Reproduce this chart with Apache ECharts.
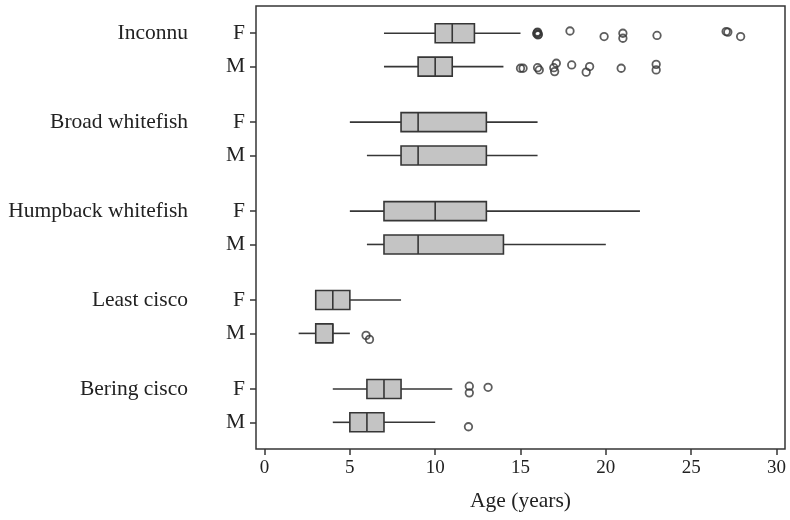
<!DOCTYPE html>
<html>
<head>
<meta charset="utf-8">
<script src="https://cdn.jsdelivr.net/npm/echarts@6/dist/echarts.min.js"></script>
<style>
  html, body { margin: 0; padding: 0; background: #fff; }
  #chart { width: 790px; height: 520px; }
</style>
</head>
<body>
<div id="chart"></div>
<script>
// groups, top to bottom
const species = ['Inconnu', 'Broad whitefish', 'Humpback whitefish', 'Least cisco', 'Bering cisco'];
const sexes = ['F', 'M'];
// y position of each row (F/M pairs, gap between species)
const rowPos = [0, 3, 8, 11, 16, 19, 24, 27, 32, 35];
// box per row: [min, Q1, median, Q3, max]
const boxStats = [
  [7, 10, 11, 12.3, 15],
  [7, 9, 10, 11, 14],
  [5, 8, 9, 13, 16],
  [6, 8, 9, 13, 16],
  [5, 7, 10, 13, 22],
  [6, 7, 9, 14, 20],
  [3, 3, 4, 5, 8],
  [2, 3, 4, 4, 5],
  [4, 6, 7, 8, 11],
  [4, 5, 6, 7, 10]
];
// outliers: [row, age, vertical jitter]
const outliers = [
  [0, 16, -0.1], [0, 16.05, 0.1], [0, 15.95, 0.05], [0, 16.02, 0.15], [0, 15.98, -0.05],
  [0, 17.9, -0.2], [0, 19.9, 0.3], [0, 21, 0], [0, 21, 0.45], [0, 23, 0.2],
  [0, 27.05, -0.15], [0, 27.15, -0.1], [0, 27.9, 0.3],
  [1, 15, 0.15], [1, 15.15, 0.15], [1, 16, 0.1], [1, 16.1, 0.3],
  [1, 17.1, -0.3], [1, 16.95, 0.1], [1, 17, 0.45], [1, 18, -0.15],
  [1, 19.05, 0], [1, 18.85, 0.5], [1, 20.9, 0.15], [1, 22.95, -0.2], [1, 22.95, 0.3],
  [7, 5.95, 0.18], [7, 6.15, 0.54],
  [8, 12, -0.25], [8, 12, 0.35], [8, 13.1, -0.15],
  [9, 11.95, 0.4]
];
const xTicks = [0, 5, 10, 15, 20, 25, 30];

const ink = '#363636';
const font = 'Liberation Serif';

const boxData = boxStats.map((b, i) => [rowPos[i]].concat(b));
const pointData = outliers.map(o => [o[1], rowPos[o[0]] + o[2]]);
const fRows = rowPos.filter((_, i) => i % 2 === 0);

const chart = echarts.init(document.getElementById('chart'));
chart.setOption({
  animation: false,
  grid: { left: 256, right: 5, top: 6, bottom: 71, show: true, borderColor: ink, borderWidth: 1.5 },
  xAxis: {
    type: 'value', min: -0.5, max: 30.5,
    axisLine: { show: false, onZero: false },
    splitLine: { show: false },
    axisTick: { customValues: xTicks, length: 6, lineStyle: { color: ink, width: 1.5 } },
    axisLabel: { customValues: xTicks, fontSize: 19, fontFamily: font, color: '#222', margin: 10 },
    name: 'Age (years)', nameLocation: 'middle', nameGap: 41,
    nameTextStyle: { fontSize: 21.5, fontFamily: font, color: '#222' }
  },
  yAxis: [{
    type: 'value', inverse: true, min: -2.45, max: 37.4, position: 'left',
    axisLine: { show: false, onZero: false },
    splitLine: { show: false },
    axisTick: { customValues: rowPos, length: 6, lineStyle: { color: ink, width: 1.5 } },
    axisLabel: {
      customValues: rowPos, fontSize: 21.5, fontFamily: font, color: '#222', margin: 11,
      formatter: v => sexes[rowPos.indexOf(v) % 2]
    }
  }, {
    type: 'value', inverse: true, min: -2.45, max: 37.4, position: 'left',
    axisLine: { show: false, onZero: false },
    splitLine: { show: false },
    axisTick: { show: false },
    axisLabel: {
      customValues: fRows, fontSize: 21.5, fontFamily: font, color: '#222', margin: 68,
      formatter: v => species[fRows.indexOf(v)]
    }
  }],
  series: [{
    type: 'custom',
    data: boxData,
    encode: { x: [1, 2, 3, 4, 5], y: 0 },
    renderItem: function (params, api) {
      const y = api.value(0);
      const pMin = api.coord([api.value(1), y]);
      const pQ1 = api.coord([api.value(2), y]);
      const pMed = api.coord([api.value(3), y]);
      const pQ3 = api.coord([api.value(4), y]);
      const pMax = api.coord([api.value(5), y]);
      const cy = pMed[1], h = 19;
      const ls = { stroke: ink, lineWidth: 1.6 };
      return {
        type: 'group',
        children: [
          { type: 'line', shape: { x1: pMin[0], y1: cy, x2: pQ1[0], y2: cy }, style: ls },
          { type: 'line', shape: { x1: pQ3[0], y1: cy, x2: pMax[0], y2: cy }, style: ls },
          { type: 'rect', shape: { x: pQ1[0], y: cy - h / 2, width: pQ3[0] - pQ1[0], height: h },
            style: { fill: '#c4c4c4', stroke: ink, lineWidth: 1.6 } },
          { type: 'line', shape: { x1: pMed[0], y1: cy - h / 2, x2: pMed[0], y2: cy + h / 2 }, style: ls }
        ]
      };
    }
  }, {
    type: 'scatter',
    data: pointData,
    symbol: 'circle',
    symbolSize: 7.5,
    itemStyle: { color: 'rgba(0,0,0,0)', borderColor: ink, borderWidth: 1.8 }
  }]
});
</script>
</body>
</html>
